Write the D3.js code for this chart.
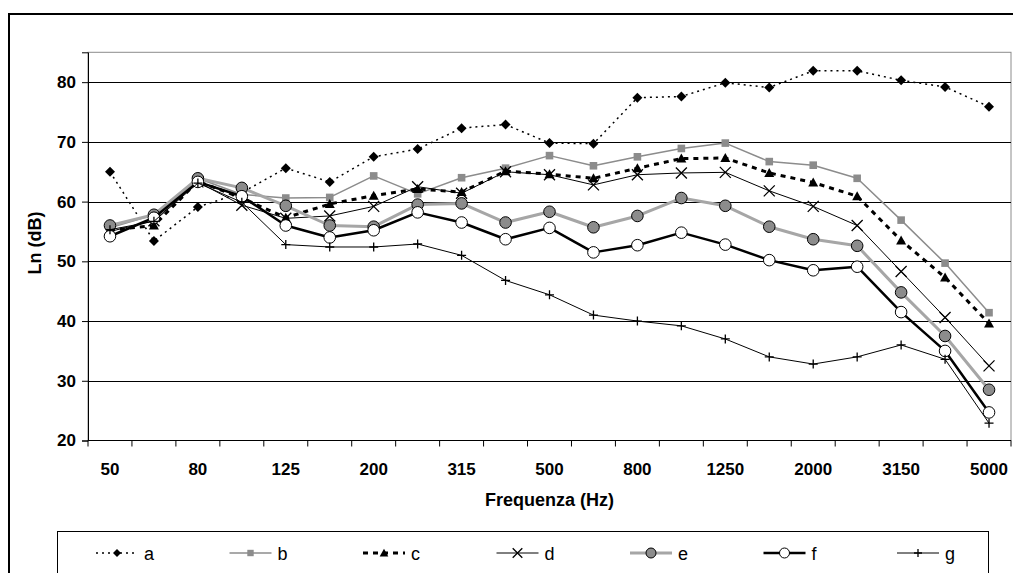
<!DOCTYPE html>
<html>
<head>
<meta charset="utf-8">
<script src="https://cdn.jsdelivr.net/npm/d3@7"></script>
<style>
  html, body { margin: 0; padding: 0; background: #fff; }
  svg { display: block; font-family: "Liberation Sans", Arial, sans-serif; }
</style>
</head>
<body>
<svg id="chart" width="1013" height="573"></svg>
<script>
const categories = ["50","63","80","100","125","160","200","250","315","400","500","630","800","1000","1250","1600","2000","2500","3150","4000","5000"];
const tickLabels = ["50","80","125","200","315","500","800","1250","2000","3150","5000"];
const yTicks = [20,30,40,50,60,70,80];
const seriesNames = ["a","b","c","d","e","f","g"];
const a = [65.0,53.4,59.1,61.5,65.6,63.3,67.5,68.8,72.3,72.9,69.8,69.7,77.4,77.6,79.9,79.1,81.9,81.9,80.3,79.2,75.9];
const b = [55.6,57.8,63.9,61.2,60.6,60.7,64.3,61.3,64.0,65.6,67.7,66.0,67.5,68.9,69.8,66.7,66.1,63.9,56.9,49.7,41.4];
const c = [55.2,56.0,63.4,60.6,57.3,59.6,61.0,62.1,61.6,65.1,64.6,63.9,65.6,67.2,67.3,64.8,63.2,60.9,53.5,47.3,39.6];
const d = [55.0,56.8,63.3,59.4,57.2,57.6,59.2,62.5,61.4,65.0,64.5,62.8,64.5,64.8,64.9,61.8,59.2,56.0,48.3,40.6,32.5];
const e = [56.0,57.8,63.9,62.3,59.3,56.0,55.8,59.5,59.7,56.5,58.3,55.7,57.6,60.6,59.3,55.8,53.7,52.6,44.8,37.5,28.5];
const f = [54.2,57.3,63.3,60.9,56.0,54.0,55.2,58.2,56.5,53.7,55.6,51.5,52.7,54.8,52.8,50.2,48.5,49.1,41.5,35.0,24.7];
const g = [55.3,56.7,63.1,59.9,52.8,52.4,52.4,52.9,51.0,46.8,44.4,41.0,40.0,39.2,37.0,34.0,32.8,34.0,36.0,33.6,22.9];
const seriesValues = [a,b,c,d,e,f,g];

// styles
const styles = {
  a: {stroke:"#000", width:1.5, dash:"2,4", marker:"diamond", mfill:"#000", mstroke:"none"},
  b: {stroke:"#8c8c8c", width:1.5, dash:null, marker:"square", mfill:"#8c8c8c", mstroke:"none"},
  c: {stroke:"#000", width:3, dash:"5,5", marker:"triangle", mfill:"#000", mstroke:"none"},
  d: {stroke:"#000", width:1, dash:null, marker:"x", mfill:"none", mstroke:"#000"},
  e: {stroke:"#a6a6a6", width:3, dash:null, marker:"circle", mfill:"#8c8c8c", mstroke:"#000"},
  f: {stroke:"#000", width:2.5, dash:null, marker:"circle", mfill:"#fff", mstroke:"#000"},
  g: {stroke:"#000", width:1, dash:null, marker:"plus", mfill:"none", mstroke:"#000"}
};

function markerPath(type, r) {
  const p = d3.path();
  if (type === "diamond") {
    p.moveTo(0,-r); p.lineTo(r,0); p.lineTo(0,r); p.lineTo(-r,0); p.closePath();
  } else if (type === "square") {
    p.rect(-r,-r,2*r,2*r);
  } else if (type === "triangle") {
    p.moveTo(0,-r); p.lineTo(r,r*0.8); p.lineTo(-r,r*0.8); p.closePath();
  } else if (type === "x") {
    p.moveTo(-r,-r); p.lineTo(r,r); p.moveTo(r,-r); p.lineTo(-r,r);
  } else if (type === "plus") {
    p.moveTo(-r,0); p.lineTo(r,0); p.moveTo(0,-r); p.lineTo(0,r);
  } else if (type === "circle") {
    p.arc(0,0,r,0,2*Math.PI);
  }
  return p.toString();
}
const markerSize = {diamond:5, square:3.8, triangle:5, x:5.5, plus:4.5, circle:5.8};
const legendMarkerSize = {diamond:4, square:3.2, triangle:4.3, x:4.8, plus:4, circle:5};

const svg = d3.select("#chart");
const L = 88, R = 1011, T = 52.3, B = 440.5;

const x = d3.scaleBand().domain(categories).range([L, R]).padding(0);
const y = d3.scaleLinear().domain([20, 85]).range([B, T]);

// outer chart border
svg.append("rect").attr("x",9).attr("y",14).attr("width",1030).attr("height",600)
  .attr("fill","none").attr("stroke","#000").attr("stroke-width",2);

// plot area border (gray)
svg.append("rect").attr("x",L).attr("y",T).attr("width",R-L).attr("height",B-T)
  .attr("fill","none").attr("stroke","#8c8c8c").attr("stroke-width",1);

// gridlines
svg.append("g").selectAll("line").data(yTicks.filter(v => v > 20)).join("line")
  .attr("x1",L).attr("x2",R)
  .attr("y1",v => Math.round(y(v))+0.5).attr("y2",v => Math.round(y(v))+0.5)
  .attr("stroke","#000").attr("stroke-width",1);

// y axis
const yAxis = d3.axisLeft(y).tickValues(yTicks).tickSize(6).tickPadding(6).tickFormat(d3.format("d"));
const gy = svg.append("g").attr("transform",`translate(${L},0)`).call(yAxis);
gy.select(".domain").attr("stroke","#000");
gy.selectAll(".tick line").attr("stroke","#000");
gy.selectAll(".tick text").attr("font-size",17).attr("font-weight","bold")
  .attr("fill","#000").attr("font-family","Liberation Sans, Arial, sans-serif");

// x axis: ticks at band boundaries
const gx = svg.append("g").attr("transform",`translate(0,${B})`);
gx.append("line").attr("x1",L).attr("x2",R).attr("y1",0).attr("y2",0).attr("stroke","#000");
const boundaries = categories.map(cat => x(cat)).concat([R]);
gx.selectAll("line.tk").data(boundaries).join("line").attr("class","tk")
  .attr("x1",v => v).attr("x2",v => v).attr("y1",0).attr("y2",6).attr("stroke","#000");
gx.selectAll("text").data(tickLabels).join("text")
  .attr("x",lab => x(lab) + x.bandwidth()/2)
  .attr("y",34)
  .attr("text-anchor","middle")
  .attr("font-size",17).attr("font-weight","bold").attr("fill","#000")
  .text(lab => lab);

// axis titles
svg.append("text").attr("x",(L+R)/2).attr("y",506).attr("text-anchor","middle")
  .attr("font-size",18).attr("font-weight","bold").text("Frequenza (Hz)");
svg.append("text").attr("transform",`translate(41,243) rotate(-90)`).attr("text-anchor","middle")
  .attr("font-size",18).attr("font-weight","bold").text("Ln (dB)");

// series
const line = d3.line().x((v,i) => x(categories[i]) + x.bandwidth()/2).y(v => y(v));
seriesNames.forEach((name, si) => {
  const st = styles[name];
  const vals = seriesValues[si];
  const gs = svg.append("g").attr("class","series-"+name);
  gs.append("path").attr("d", line(vals)).attr("fill","none")
    .attr("stroke",st.stroke).attr("stroke-width",st.width)
    .attr("stroke-dasharray",st.dash).attr("stroke-linejoin","round");
  gs.selectAll("path.m").data(vals).join("path").attr("class","m")
    .attr("transform",(v,i) => `translate(${x(categories[i]) + x.bandwidth()/2},${y(v)})`)
    .attr("d", markerPath(st.marker, markerSize[st.marker]))
    .attr("fill", st.mfill)
    .attr("stroke", st.mstroke === "none" ? null : st.mstroke)
    .attr("stroke-width", (st.marker === "x" || st.marker === "plus") ? 1.3 : 1);
});

// legend
svg.append("rect").attr("x",57.5).attr("y",531.5).attr("width",931).attr("height",80)
  .attr("fill","#fff").attr("stroke","#000").attr("stroke-width",1);
const legY = 553;
const lg = svg.append("g").selectAll("g").data(seriesNames).join("g")
  .attr("transform",(n,i) => `translate(${117 + 133.5*i},${legY})`);
lg.each(function(name) {
  const st = styles[name];
  const gg = d3.select(this);
  gg.append("line").attr("x1",-21).attr("x2",21).attr("y1",0).attr("y2",0)
    .attr("stroke",st.stroke).attr("stroke-width",st.width).attr("stroke-dasharray",st.dash);
  gg.append("path").attr("d", markerPath(st.marker, legendMarkerSize[st.marker]))
    .attr("fill", st.mfill)
    .attr("stroke", st.mstroke === "none" ? null : st.mstroke)
    .attr("stroke-width", (st.marker === "x" || st.marker === "plus") ? 1.3 : 1);
  gg.append("text").attr("x",27).attr("y",6.5).attr("font-size",18).attr("fill","#000").text(name);
});
</script>
</body>
</html>
